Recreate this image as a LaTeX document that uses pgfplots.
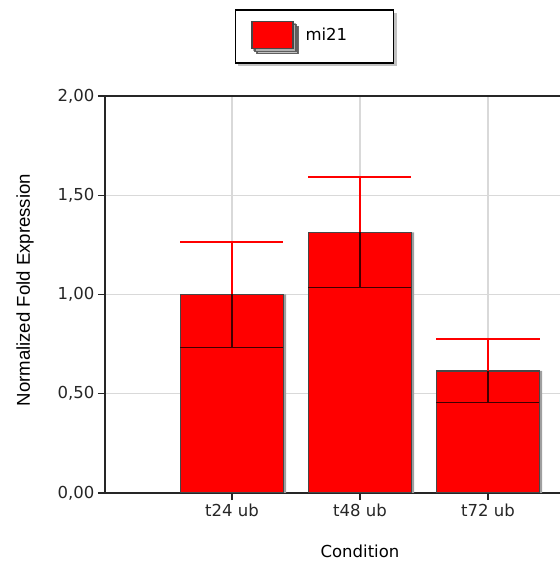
\documentclass[border=0pt]{standalone}
\usepackage{pgfplots}
\pgfplotsset{compat=1.18}
\usepackage{pgfplotstable}
\usepackage{fontspec}
\setmainfont{DejaVu Sans}
\newfontfamily\arialf{Liberation Sans}
\usetikzlibrary{shadows}
\definecolor{edgegray}{rgb}{0.28,0.28,0.28}
\definecolor{errdark}{rgb}{0.25,0,0}
\definecolor{spine}{rgb}{0.15,0.15,0.15}

\pgfplotstableread{
x y e
0 1.000 0.266
1 1.313 0.277
2 0.615 0.160
}\datatable

\begin{document}
\begin{tikzpicture}
\begin{axis}[
  scale only axis,
  width=455bp, height=397bp,
  xmin=-0.992, xmax=2.5625,
  ymin=0, ymax=2,
  axis x line*=box, axis y line*=left,
  axis line style={spine, line width=1.5bp},
  xtick={0,1,2},
  xticklabels={t24 ub, t48 ub, t72 ub},
  xtick pos=left,
  ytick={0,0.5,1,1.5,2},
  tick align=outside,
  major tick length=7bp,
  tick style={spine, line width=1.2bp},
  grid=major,
  grid style={gray!30, line width=1.2bp},
  /pgf/number format/assume math mode=true,
  yticklabel style={/pgf/number format/.cd, fixed, fixed zerofill, precision=2, use comma},
  every tick label/.append style={font=\fontsize{16.5bp}{19bp}\selectfont, text=black!85},
  xlabel={Condition},
  xlabel style={at={(axis description cs:0.5604,-0.146)}, anchor=center, font=\fontsize{16.5bp}{19bp}\selectfont},
  ylabel={Normalized Fold Expression},
  ylabel style={at={(axis description cs:-0.1758,0.511)}, anchor=center, font=\arialf\fontsize{18.6bp}{21bp}\selectfont},
  legend style={
    at={(0.4604,1.2191)}, anchor=north,
    draw=black, line width=1.5bp, fill=white,
    drop shadow={shadow xshift=3bp, shadow yshift=-3bp, fill=gray!60, opacity=0.8},
    inner xsep=16bp, inner ysep=11.5bp,
    column sep=10bp,
    nodes={inner sep=0pt, text width=72bp, align=left, anchor=west, font=\fontsize{16.5bp}{19bp}\selectfont},
  },
]
% bar shadows
\addplot[ybar, bar width=0.805, bar shift=2.5bp, fill=gray!75, draw=none, forget plot]
  table[x=x, y=y]{\datatable};
% bars
\addplot[ybar, bar width=0.805, fill=red, draw=edgegray, line width=1.2bp,
  legend image code/.code={
    \fill[gray!70] (2bp,-15.5bp) rectangle (43bp,11.5bp);
    \draw[fill=red, draw=edgegray, line width=1.2bp] (0bp,-13.5bp) rectangle (41bp,13.5bp);
  }]
  table[x=x, y=y]{\datatable};
\addlegendentry{mi21}
% lower error part
\addplot[draw=none, mark=none, forget plot,
  error bars/.cd, y dir=minus, y explicit,
  error bar style={draw=errdark, line width=1.5bp},
  error mark options={rotate=90, draw=errdark, line width=1.5bp, mark size=51.5bp}]
  table[x=x, y=y, y error=e]{\datatable};
% upper error part
\addplot[draw=none, mark=none, forget plot,
  error bars/.cd, y dir=plus, y explicit,
  error bar style={draw=red, line width=2bp},
  error mark options={rotate=90, draw=red, line width=2bp, mark size=51.5bp}]
  table[x=x, y=y, y error=e]{\datatable};
\end{axis}
\pgfresetboundingbox
\useasboundingbox (-105bp,-71bp) rectangle (455bp,493bp);
\end{tikzpicture}
\end{document}
